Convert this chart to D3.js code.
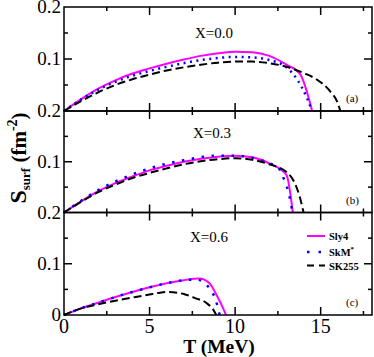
<!DOCTYPE html>
<html>
<head>
<meta charset="utf-8">
<script src="https://cdn.jsdelivr.net/npm/d3@7"></script>
<style>
body { margin: 0; background: #fff; }
</style>
</head>
<body>
<div id="chart"></div>
<script>
// Panel labels
var panelNames = ["X=0.0", "X=0.3", "X=0.6"];
var panelTags = ["(a)", "(b)", "(c)"];
var seriesNames = ["Sly4", "SkM*", "SK255"];

// y tick labels, per panel (top, middle)
var yTickLabels = [["0.2", "0.1"], ["0.2", "0.1"], ["0.2", "0.1"]];
var xTickValues = [0, 5, 10, 15];

// (a) X=0.0
var tSly4A = [0, 1, 2, 3, 4, 5, 6, 7, 8, 9, 10, 11, 12, 13, 13.8, 14.5];
var sSly4A = [0, 0.023, 0.043, 0.059, 0.072, 0.082, 0.091, 0.099, 0.106, 0.111, 0.114, 0.113, 0.106, 0.089, 0.071, 0];
var tSkmA = [0, 1, 2, 3, 4, 5, 6, 7, 8, 9, 10, 11, 12, 13, 13.6, 14.2, 14.5];
var sSkmA = [0, 0.022, 0.041, 0.056, 0.068, 0.077, 0.085, 0.092, 0.098, 0.102, 0.104, 0.103, 0.098, 0.084, 0.062, 0.025, 0];
var tSk255A = [0, 1, 2, 3, 4, 5, 6, 7, 8, 9, 10, 11, 12, 13, 14, 14.8, 15.5, 16, 16.15];
var sSk255A = [0, 0.019, 0.036, 0.050, 0.061, 0.070, 0.078, 0.084, 0.089, 0.093, 0.095, 0.095, 0.092, 0.085, 0.073, 0.060, 0.040, 0.015, 0];

// (b) X=0.3
var tSly4B = [0, 1, 2, 3, 4, 5, 6, 7, 8, 9, 10, 11, 12, 13, 13.37];
var sSly4B = [0, 0.022, 0.042, 0.058, 0.071, 0.083, 0.092, 0.100, 0.106, 0.110, 0.112, 0.109, 0.097, 0.074, 0];
var tSkmB = [0, 1, 2, 3, 4, 5, 6, 7, 8, 9, 10, 11, 12, 12.5, 12.7, 12.9, 13.1, 13.25, 13.35];
var sSkmB = [0, 0.023, 0.044, 0.061, 0.075, 0.087, 0.096, 0.103, 0.109, 0.112, 0.112, 0.108, 0.097, 0.090, 0.078, 0.062, 0.042, 0.020, 0];
var tSk255B = [0, 1, 2, 3, 4, 5, 6, 7, 8, 9, 10, 11, 12, 13, 13.5, 13.8, 14.0];
var sSk255B = [0, 0.021, 0.040, 0.055, 0.068, 0.078, 0.087, 0.095, 0.101, 0.105, 0.107, 0.104, 0.095, 0.080, 0.057, 0.028, 0];

// (c) X=0.6
var tSly4C = [0, 1, 2, 3, 4, 5, 6, 7, 7.9, 8.5, 8.9, 9.3, 9.47];
var sSly4C = [0, 0.013, 0.024, 0.035, 0.045, 0.054, 0.062, 0.068, 0.071, 0.062, 0.040, 0.013, 0];
var tSkmC = [0, 1, 2, 3, 4, 5, 6, 7, 7.75, 8.3, 8.67, 8.87, 9.06, 9.1];
var sSkmC = [0, 0.013, 0.024, 0.035, 0.045, 0.054, 0.062, 0.068, 0.069, 0.060, 0.044, 0.029, 0.005, 0];
var tSk255C = [0, 1, 2, 3, 4, 5, 5.5, 6, 7, 7.66, 8.34, 8.73, 8.9];
var sSk255C = [0, 0.013, 0.021, 0.028, 0.034, 0.040, 0.043, 0.045, 0.041, 0.033, 0.023, 0.010, 0];

var panels = [
	[[tSly4A, sSly4A], [tSkmA, sSkmA], [tSk255A, sSk255A]],
	[[tSly4B, sSly4B], [tSkmB, sSkmB], [tSk255B, sSk255B]],
	[[tSly4C, sSly4C], [tSkmC, sSkmC], [tSk255C, sSk255C]]
];

var width = 374, height = 357;
var left = 64, right = 372;
var edges = [7, 111, 212.5, 315];

var svg = d3.select("#chart").append("svg")
	.attr("width", width)
	.attr("height", height);

var x = d3.scaleLinear().domain([0, 18]).range([left, right]);

// line styles for the three series
var styles = [
	{ color: "#ff00ff", width: 2, dash: null },
	{ color: "#0000ff", width: 2.5, dash: ["2,4.5", "2.5,7.5", "2.5,7.5"] },
	{ color: "#000000", width: 2, dash: ["8,4", "8,4", "8,4"] }
];

var xMajor = [5, 10, 15], xMinor = [2.5, 7.5, 12.5, 17.5];
var yMajor = [0.1], yMinor = [0.05, 0.15];

// all texts go through here so the serif family is set on each
function label(sel) {
	return sel.append("text").attr("font-family", "Liberation Serif");
}

panels.forEach(function(series, p) {
	var top = edges[p], bot = edges[p + 1];
	var y = d3.scaleLinear().domain([0, 0.2]).range([bot, top]);
	var g = svg.append("g");

	// curves
	var line = d3.line()
		.x(function(d) { return x(d[0]); })
		.y(function(d) { return y(d[1]); })
		.curve(d3.curveMonotoneX);
	series.forEach(function(s, i) {
		var pts = s[0].map(function(t, k) { return [t, s[1][k]]; });
		var st = styles[i];
		g.append("path")
			.datum(pts)
			.attr("d", line)
			.attr("fill", "none")
			.attr("stroke", st.color)
			.attr("stroke-width", st.width)
			.attr("stroke-dasharray", st.dash ? st.dash[p] : null);
	});

	// frame
	g.append("rect")
		.attr("x", left).attr("y", top)
		.attr("width", right - left).attr("height", bot - top)
		.attr("fill", "none").attr("stroke", "#000").attr("stroke-width", 1.5);

	// ticks, all inward
	function xt(vals, len) {
		vals.forEach(function(v) {
			g.append("line").attr("x1", x(v)).attr("x2", x(v))
				.attr("y1", bot).attr("y2", bot - len)
				.attr("stroke", "#000").attr("stroke-width", 1.5);
			g.append("line").attr("x1", x(v)).attr("x2", x(v))
				.attr("y1", top).attr("y2", top + len)
				.attr("stroke", "#000").attr("stroke-width", 1.5);
		});
	}
	function yt(vals, len) {
		vals.forEach(function(v) {
			g.append("line").attr("x1", left).attr("x2", left + len)
				.attr("y1", y(v)).attr("y2", y(v))
				.attr("stroke", "#000").attr("stroke-width", 1.5);
			g.append("line").attr("x1", right).attr("x2", right - len)
				.attr("y1", y(v)).attr("y2", y(v))
				.attr("stroke", "#000").attr("stroke-width", 1.5);
		});
	}
	xt(xMajor, 8);
	xt(xMinor, 4);
	yt(yMajor, 8);
	yt(yMinor, 4);

	// y tick labels
	[0.2, 0.1].forEach(function(v, k) {
		label(g)
			.attr("x", left - 3)
			.attr("y", y(v))
			.attr("dy", p === 0 && k === 0 ? "0.3em" : "0.34em")
			.attr("text-anchor", "end")
			.attr("font-size", 19)
			.text(yTickLabels[p][k]);
	});

	// panel title and tag
	label(g)
		.attr("x", [195, 193, 190][p])
		.attr("y", [38, 138, 242][p])
		.attr("font-size", 15)
		.text(panelNames[p]);
	label(g)
		.attr("x", 346)
		.attr("y", bot - 9)
		.attr("font-size", 11)
		.text(panelTags[p]);

	if (p === 2) {
		label(svg)
			.attr("x", left - 3).attr("y", y(0)).attr("dy", "0.34em")
			.attr("text-anchor", "end").attr("font-size", 19)
			.text("0");
		xTickValues.forEach(function(v) {
			label(svg)
				.attr("x", x(v)).attr("y", 333)
				.attr("text-anchor", "middle").attr("font-size", 20)
				.text(v);
		});
	}
});

// legend inside panel (c)
var legY = [236, 252, 265.5];
seriesNames.forEach(function(name, i) {
	var st = styles[i];
	svg.append("line")
		.attr("x1", 307).attr("x2", 325)
		.attr("y1", legY[i]).attr("y2", legY[i])
		.attr("stroke", st.color).attr("stroke-width", st.width)
		.attr("stroke-dasharray", i === 1 ? "2.5,9" : (i === 2 ? "7,5" : null));
	var t = label(svg)
		.attr("x", 329).attr("y", legY[i] + 4)
		.attr("font-size", 10.5).attr("font-weight", "bold");
	if (i === 1) {
		t.append("tspan").text("SkM");
		t.append("tspan").attr("font-size", 7).attr("dy", -5).text("*");
	} else {
		t.text(name);
	}
});

// axis titles
label(svg)
	.attr("x", 219).attr("y", 353)
	.attr("text-anchor", "middle")
	.attr("font-size", 19.5).attr("font-weight", "bold")
	.text("T (MeV)");

var yl = label(svg)
	.attr("transform", "translate(26,158) rotate(-90)")
	.attr("text-anchor", "middle")
	.attr("font-weight", "bold")
	.attr("font-size", 21);
yl.append("tspan").attr("font-size", 24).text("S");
yl.append("tspan").attr("font-size", 13).attr("dy", 4).text("surf");
yl.append("tspan").attr("dy", -4).text(" (fm");
yl.append("tspan").attr("font-size", 14).attr("dy", -9).text("-2");
yl.append("tspan").attr("dy", 9).text(")");
</script>
</body>
</html>
